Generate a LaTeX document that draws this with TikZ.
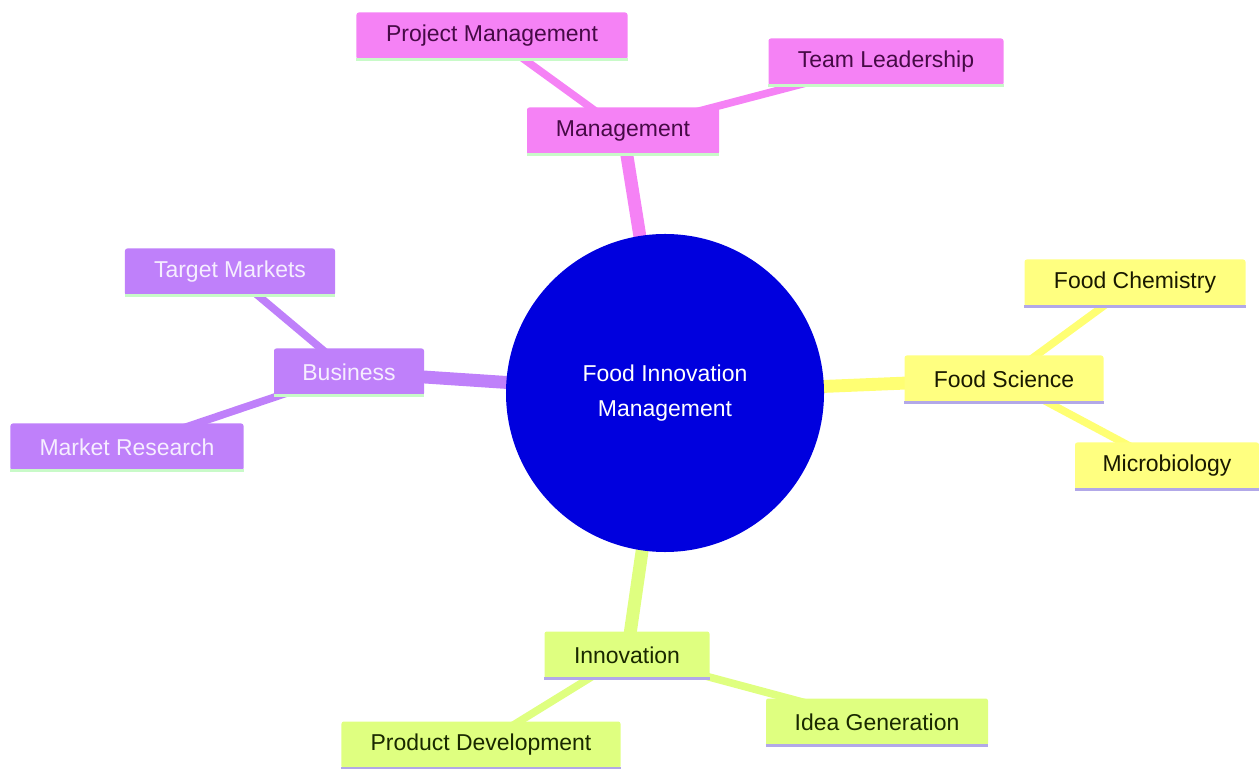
\documentclass[tikz,border=0pt]{standalone}
\usepackage{fontspec}
\setmainfont{Liberation Sans}
\usepackage{tikz}
\usetikzlibrary{positioning,backgrounds}

\definecolor{mgmtpink}{RGB}{245,130,245}
\definecolor{mgmttext}{RGB}{70,10,70}
\definecolor{bizpurple}{RGB}{191,128,250}
\definecolor{biztext}{RGB}{246,238,255}
\definecolor{sciyellow}{RGB}{255,255,128}
\definecolor{scitext}{RGB}{25,25,0}
\definecolor{innogreen}{RGB}{223,255,128}
\definecolor{innotext}{RGB}{25,40,0}
\definecolor{rootblue}{RGB}{0,0,222}
\definecolor{greenline}{RGB}{200,250,200}
\definecolor{lavline}{RGB}{178,168,232}

\begin{document}
\begin{tikzpicture}[x=0.03cm,y=-0.03cm,
font=\fontsize{19.6}{23}\selectfont]

\tikzstyle{leaf}=[rectangle, rounded corners=2pt, minimum height=1.41cm,
inner sep=0pt, text centered, draw=none]
\tikzstyle{mgmt}=[leaf, fill=mgmtpink, text=mgmttext]
\tikzstyle{biz}=[leaf, fill=bizpurple, text=biztext]
\tikzstyle{sci}=[leaf, fill=sciyellow, text=scitext]
\tikzstyle{inno}=[leaf, fill=innogreen, text=innotext]
\tikzstyle{trunk}=[line width=11pt]
\tikzstyle{twig}=[line width=6.5pt]

\useasboundingbox (0,0) rectangle (1259,769);

%root
\node[circle, fill=rootblue, text=white, minimum size=9.54cm, align=center]
(root) at (665,393)
{Food Innovation\\[7pt]Management};

%management
\node[mgmt, minimum width=5.76cm] (mgmt) at (623,131) {Management};
\node[mgmt, minimum width=8.13cm] (proj) at (492,36) {Project Management};
\node[mgmt, minimum width=7.05cm] (lead) at (886,62) {Team Leadership};

%business
\node[biz, minimum width=4.5cm] (biz) at (349,372) {Business};
\node[biz, minimum width=6.3cm] (target) at (230,272) {Target Markets};
\node[biz, minimum width=6.99cm] (market) at (127,447) {Market Research};

%food science
\node[sci, minimum width=5.97cm] (sci) at (1004,379) {Food Science};
\node[sci, minimum width=6.63cm] (chem) at (1135,283) {Food Chemistry};
\node[sci, minimum width=5.52cm] (micro) at (1167,466) {Microbiology};

%innovation
\node[inno, minimum width=4.95cm] (inno) at (627,655) {Innovation};
\node[inno, minimum width=6.66cm] (idea) at (877,722) {Idea Generation};
\node[inno, minimum width=8.37cm] (prod) at (481,745) {Product Development};

%bottom lines
\foreach \n in {mgmt,proj,lead,biz,target,market}
  \draw[greenline, line width=2.2pt] (\n.south west) -- (\n.south east);
\foreach \n in {sci,chem,micro,inno,idea,prod}
  \draw[lavline, line width=2.2pt] (\n.south west) -- (\n.south east);

\begin{scope}[on background layer]
\path[trunk, draw=mgmtpink] (root.center) -- (mgmt.center);
\path[twig, draw=mgmtpink] (mgmt.center) -- (proj.center);
\path[twig, draw=mgmtpink] (mgmt.center) -- (lead.center);

\path[trunk, draw=bizpurple] (root.center) -- (biz.center);
\path[twig, draw=bizpurple] (biz.center) -- (target.center);
\path[twig, draw=bizpurple] (biz.center) -- (market.center);

\path[trunk, draw=sciyellow!90!yellow] (root.center) -- (sci.center);
\path[twig, draw=sciyellow!90!yellow] (sci.center) -- (chem.center);
\path[twig, draw=sciyellow!90!yellow] (sci.center) -- (micro.center);

\path[trunk, draw=innogreen] (root.center) -- (inno.center);
\path[twig, draw=innogreen] (inno.center) -- (idea.center);
\path[twig, draw=innogreen] (inno.center) -- (prod.center);
\end{scope}

\end{tikzpicture}
\end{document}
